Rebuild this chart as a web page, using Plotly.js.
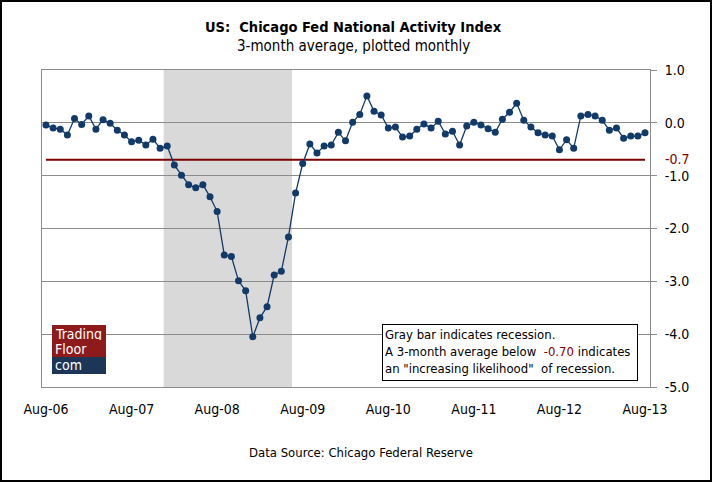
<!DOCTYPE html>
<html><head><meta charset="utf-8">
<script src="https://cdn.plot.ly/plotly-3.0.1.min.js"></script>
<style>
html,body{margin:0;padding:0;background:#fff;}
#wrap{position:relative;width:712px;height:482px;}
#chart{position:absolute;left:0;top:0;width:712px;height:482px;}
#frame{position:absolute;left:0;top:0;width:712px;height:482px;border:2px solid #000;box-sizing:border-box;pointer-events:none;}
</style>
</head><body>
<div id="wrap"><div id="chart"></div><div id="frame"></div></div>
<script>
// ---- data ----
const monthNames = ["Jan","Feb","Mar","Apr","May","Jun","Jul","Aug","Sep","Oct","Nov","Dec"];
const startYear = 2006;
const startMonthIndex = 7; // August
const cfnaiMA3 = [
  -0.04,-0.10,-0.12,-0.23, 0.08,-0.03, 0.13,-0.12, 0.06,-0.01,-0.14,-0.23,
  -0.36,-0.33,-0.42,-0.31,-0.48,-0.44,-0.80,-0.99,-1.17,-1.23,-1.17,-1.40,
  -1.68,-2.50,-2.53,-2.99,-3.18,-4.05,-3.69,-3.48,-2.88,-2.81,-2.16,-1.33,
  -0.77,-0.40,-0.57,-0.44,-0.42,-0.18,-0.34, 0.01, 0.16, 0.51, 0.22, 0.15,
  -0.10,-0.08,-0.27,-0.25,-0.12,-0.02,-0.10, 0.03,-0.21,-0.16,-0.42,-0.06,
   0.01,-0.04,-0.11,-0.18, 0.07, 0.20, 0.37, 0.05,-0.08,-0.19,-0.23,-0.25,
  -0.51,-0.32,-0.48, 0.13, 0.16, 0.13, 0.05,-0.14,-0.10,-0.29,-0.25,-0.25,
  -0.19
];
const xTickLabels = ["Aug-06","Aug-07","Aug-08","Aug-09","Aug-10","Aug-11","Aug-12","Aug-13"];
const yTickValues = [1,0,-1,-2,-3,-4,-5];
const yTickLabels = ["1.0","0.0","-1.0","-2.0","-3.0","-4.0","-5.0"];
const thresholdValue = -0.7;
const thresholdLabel = "-0.7";
const recessionFirstMonth = "Dec-07";
const recessionLastMonth = "Jun-09";

// month category labels
const months = cfnaiMA3.map((_, i) => {
  const m = (startMonthIndex + i) % 12;
  const y = startYear + Math.floor((startMonthIndex + i) / 12);
  return monthNames[m] + "-" + String(y % 100).padStart(2, "0");
});

const FONT = "Tahoma, 'DejaVu Sans Condensed', 'DejaVu Sans', sans-serif";
const NAVY = "#123a68";
const DARKRED = "#7a0000";

// pixel helpers for paper coords (plot area: x 42..650, y 70..387)
const L = 42, R = 650, T = 70, B = 387;
const px = x => (x - L) / (R - L);
const py = y => (B - y) / (B - T);

const recStart = months.indexOf(recessionFirstMonth) + 0.5;
const recEnd = months.indexOf(recessionLastMonth) + 0.5;

const traces = [
  {
    x: [months[0], months[months.length - 1]],
    y: [thresholdValue, thresholdValue],
    mode: "lines",
    line: {color: DARKRED, width: 2},
    hoverinfo: "skip",
    showlegend: false
  },
  {
    x: months,
    y: cfnaiMA3,
    mode: "lines+markers",
    line: {color: NAVY, width: 1.3},
    marker: {color: NAVY, size: 7},
    showlegend: false
  }
];

const layout = {
  width: 712, height: 482,
  margin: {l: L, r: 712 - R, t: T, b: 482 - B, pad: 0},
  paper_bgcolor: "#fff", plot_bgcolor: "#fff",
  font: {family: FONT, color: "#000", size: 13},
  showlegend: false,
  xaxis: {
    type: "category",
    categoryorder: "array", categoryarray: months,
    range: [-0.56, 84.7],
    tickvals: xTickLabels, ticktext: xTickLabels,
    showgrid: false, zeroline: false,
    showline: true, linecolor: "#8c8c8c", linewidth: 1, mirror: true,
    ticks: "", ticklabelstandoff: 9,
    tickfont: {size: 14, family: FONT}
  },
  yaxis: {
    side: "right",
    range: [-5, 1],
    tickvals: yTickValues, ticktext: yTickLabels,
    showgrid: true, gridcolor: "#8c8c8c", gridwidth: 1,
    zeroline: false,
    showline: true, linecolor: "#8c8c8c", linewidth: 1, mirror: true,
    ticks: "outside", ticklen: 6, tickcolor: "#8c8c8c",
    ticklabelstandoff: 5,
    tickfont: {size: 14, family: FONT}
  },
  shapes: [
    {type: "rect", layer: "between", xref: "x", yref: "paper",
     x0: recStart, x1: recEnd, y0: 0, y1: 1,
     fillcolor: "#d9d9d9", line: {width: 0}},
    // logo
    {type: "rect", layer: "above", xref: "paper", yref: "paper",
     x0: px(52), x1: px(106), y0: py(357), y1: py(325),
     fillcolor: "#8e1b1b", line: {width: 0}},
    {type: "rect", layer: "above", xref: "paper", yref: "paper",
     x0: px(52), x1: px(106), y0: py(374), y1: py(357),
     fillcolor: "#1d3557", line: {width: 0}}
  ],
  annotations: [
    {xref: "paper", yref: "paper", x: px(353), y: py(27), xanchor: "center", yanchor: "middle",
     text: "<b>US:  Chicago Fed National Activity Index</b>", showarrow: false,
     font: {size: 14.5, family: FONT}},
    {xref: "paper", yref: "paper", x: px(353), y: py(46), xanchor: "center", yanchor: "middle",
     text: "3-month average, plotted monthly", showarrow: false,
     font: {size: 15, family: FONT}},
    {xref: "paper", yref: "paper", x: px(361), y: py(452), xanchor: "center", yanchor: "middle",
     text: "Data Source: Chicago Federal Reserve", showarrow: false,
     font: {size: 13, family: FONT}},
    {xref: "paper", yref: "y", x: px(664), y: thresholdValue, xanchor: "left", yanchor: "middle",
     text: thresholdLabel, showarrow: false, yshift: 1, height: 14, borderpad: 0,
     font: {size: 14, family: FONT, color: DARKRED}},
    // legend/note box
    {xref: "paper", yref: "paper", x: px(382), y: py(324), xanchor: "left", yanchor: "top",
     text: "Gray bar indicates recession.<br>A 3-month average below  <span style='color:" + DARKRED + "'>-0.70</span> indicates<br>an \"increasing likelihood\"  of recession.",
     showarrow: false, align: "left", valign: "top",
     width: 250, height: 51,
     bgcolor: "#fff", bordercolor: "#000", borderwidth: 1, borderpad: 2,
     font: {size: 13, family: FONT}},
    // logo text
    {xref: "paper", yref: "paper", x: px(54), y: py(334), xanchor: "left", yanchor: "middle",
     text: "Trading", showarrow: false, height: 12, borderpad: 0,
     font: {size: 14, family: FONT, color: "#fff"}},
    {xref: "paper", yref: "paper", x: px(54), y: py(349), xanchor: "left", yanchor: "middle",
     text: "Floor", showarrow: false, height: 12, borderpad: 0,
     font: {size: 14, family: FONT, color: "#fff"}},
    {xref: "paper", yref: "paper", x: px(54), y: py(365), xanchor: "left", yanchor: "middle",
     text: "com", showarrow: false, height: 12, borderpad: 0,
     font: {size: 14, family: FONT, color: "#fff"}}
  ]
};

Plotly.newPlot("chart", traces, layout, {displayModeBar: false, staticPlot: true});
</script>
</body></html>
